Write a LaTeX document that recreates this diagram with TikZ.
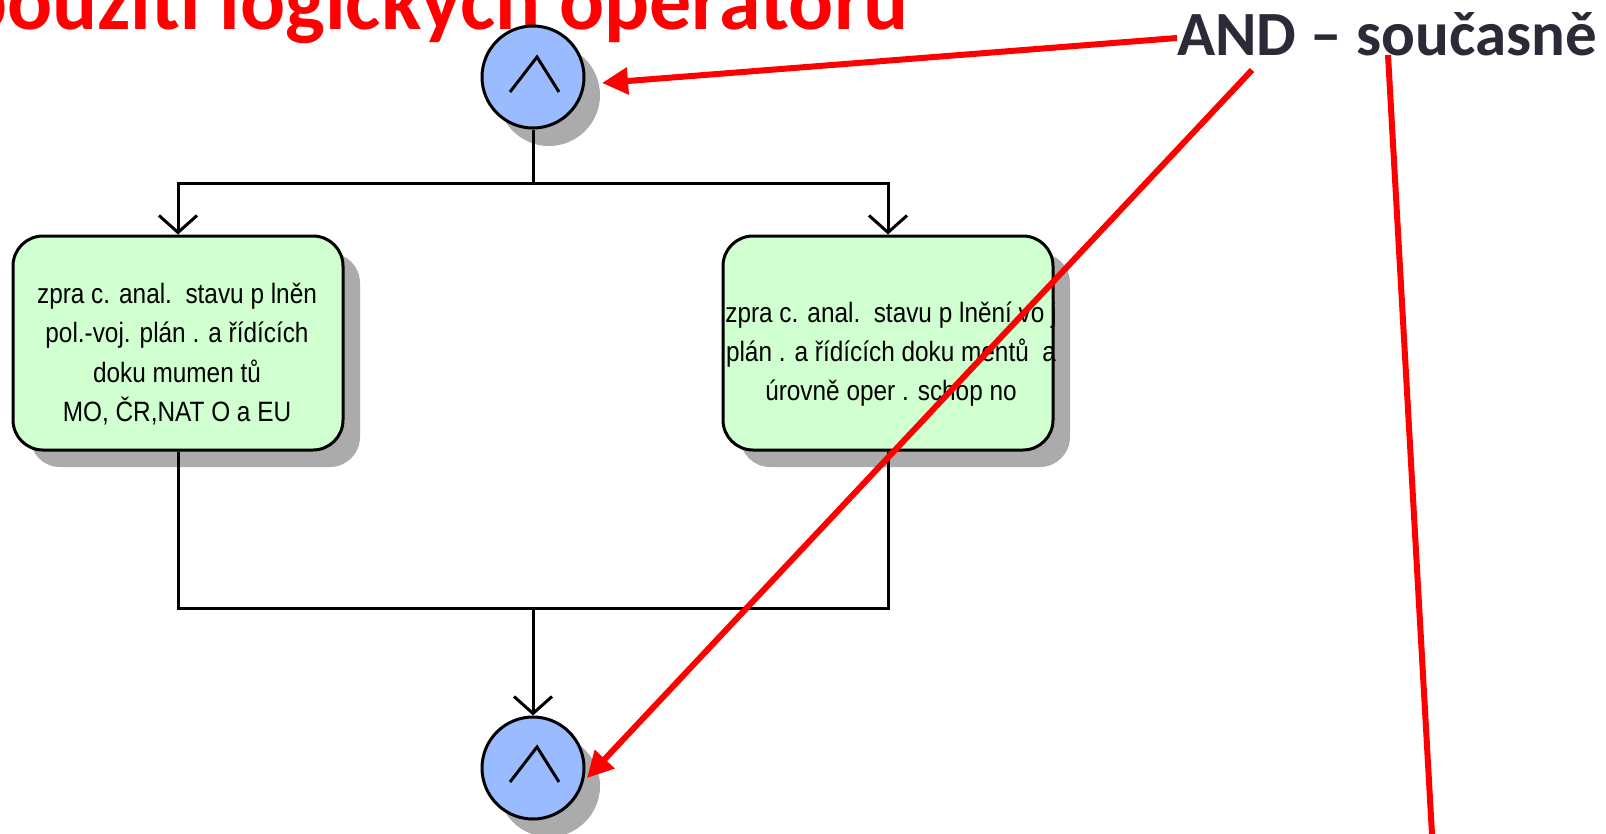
\documentclass[tikz,border=0pt]{standalone}
\usepackage{fontspec}
\setmainfont{Carlito}
\newfontfamily\boxfont[FakeStretch=0.87]{Liberation Sans}
\usetikzlibrary{arrows.meta,shadows,calc}
\definecolor{nodeblue}{RGB}{155,187,255}
\definecolor{nodegreen}{RGB}{208,255,208}
\definecolor{shadowgray}{RGB}{171,171,171}
\definecolor{anddark}{RGB}{43,43,56}
\definecolor{titlered}{RGB}{255,0,0}
\begin{document}
\begin{tikzpicture}[x=1pt,y=-1pt,
  opcircle/.style={circle, draw=black, line width=3pt, fill=nodeblue, minimum size=102pt, inner sep=0pt,
    general shadow={shadow xshift=16pt, shadow yshift=-18pt, fill=shadowgray}},
  actbox/.style={rectangle, rounded corners=30pt, draw=black, line width=3pt, fill=nodegreen,
    minimum width=330pt, minimum height=214pt, inner sep=0pt,
    general shadow={shadow xshift=17pt, shadow yshift=-17pt, fill=shadowgray}},
  boxtext/.style={font=\boxfont\fontsize{28}{39.3}\selectfont, align=center, inner sep=0pt},
  flow/.style={line width=3pt, draw=black},
  flowarrow/.style={flow, -{Straight Barb[length=17pt, width=38pt]}},
  redarrow/.style={line width=6pt, draw=titlered, -{Triangle[length=26pt, width=26pt]}},
  redline/.style={line width=6pt, draw=titlered},
  caret/.style={line width=3pt},
  titletext/.style={font=\bfseries\fontsize{84}{100}\selectfont, text=titlered, inner sep=0pt},
  andtext/.style={font=\bfseries\fontsize{63}{75}\selectfont, text=anddark, inner sep=0pt},
]
\useasboundingbox (0,0) rectangle (1606,833);
\fill[white] (0,0) rectangle (1606,833);

% title
\node[titletext, anchor=base east] (title) at (909,29) {použití logických operátorů};

% operator circles
\node[opcircle] (andtop) at (533,77) {};
\node[opcircle] (andbot) at (533,768) {};
\draw[caret, shift={(andtop.center)}] (-23,15) -- (4,-20) -- (26,15);
\draw[caret, shift={(andbot.center)}] (-23,14) -- (4,-21) -- (26,14);

% activity boxes
\node[actbox] (boxL) at (178,343) {};
\node[actbox] (boxR) at (888,343) {};
\node[boxtext] (textL) at (177,354) {zpra c. anal.\ \ stavu p lněn\\ pol.-voj. plán . a řídících\\ doku mumen tů\\ MO, ČR,NAT O a EU};
\node[boxtext] (textR) at (891,354) {zpra c. anal.\ \ stavu p lnění vo j\\ plán . a řídících doku mentů\ \ a\\ úrovně oper . schop no};

% connectors
\coordinate (splitT) at (533,183);
\coordinate (joinB) at (533,608);
\draw[flow] (andtop) -- (splitT);
\draw[flowarrow] (splitT) -| (boxL.north);
\draw[flowarrow] (splitT) -| (boxR.north);
\draw[flow] (boxL.south) |- (joinB);
\draw[flow] (boxR.south) |- (joinB);
\draw[flowarrow] (joinB) -- (andbot);

% annotation
\node[andtext, anchor=base west] (andlabel) at (1177,55) {AND – současně};
\coordinate (r1s) at (1177,38);
\coordinate (r1e) at (602,83);
\coordinate (r2s) at (1252,70);
\coordinate (r2e) at (587,778);
\coordinate (r3s) at (1388,55);
\coordinate (r3e) at (1434,870);
\draw[redarrow] (r1s) -- (r1e);
\draw[redarrow] (r2s) -- (r2e);
\draw[redline] (r3s) -- (r3e);
\end{tikzpicture}
\end{document}
